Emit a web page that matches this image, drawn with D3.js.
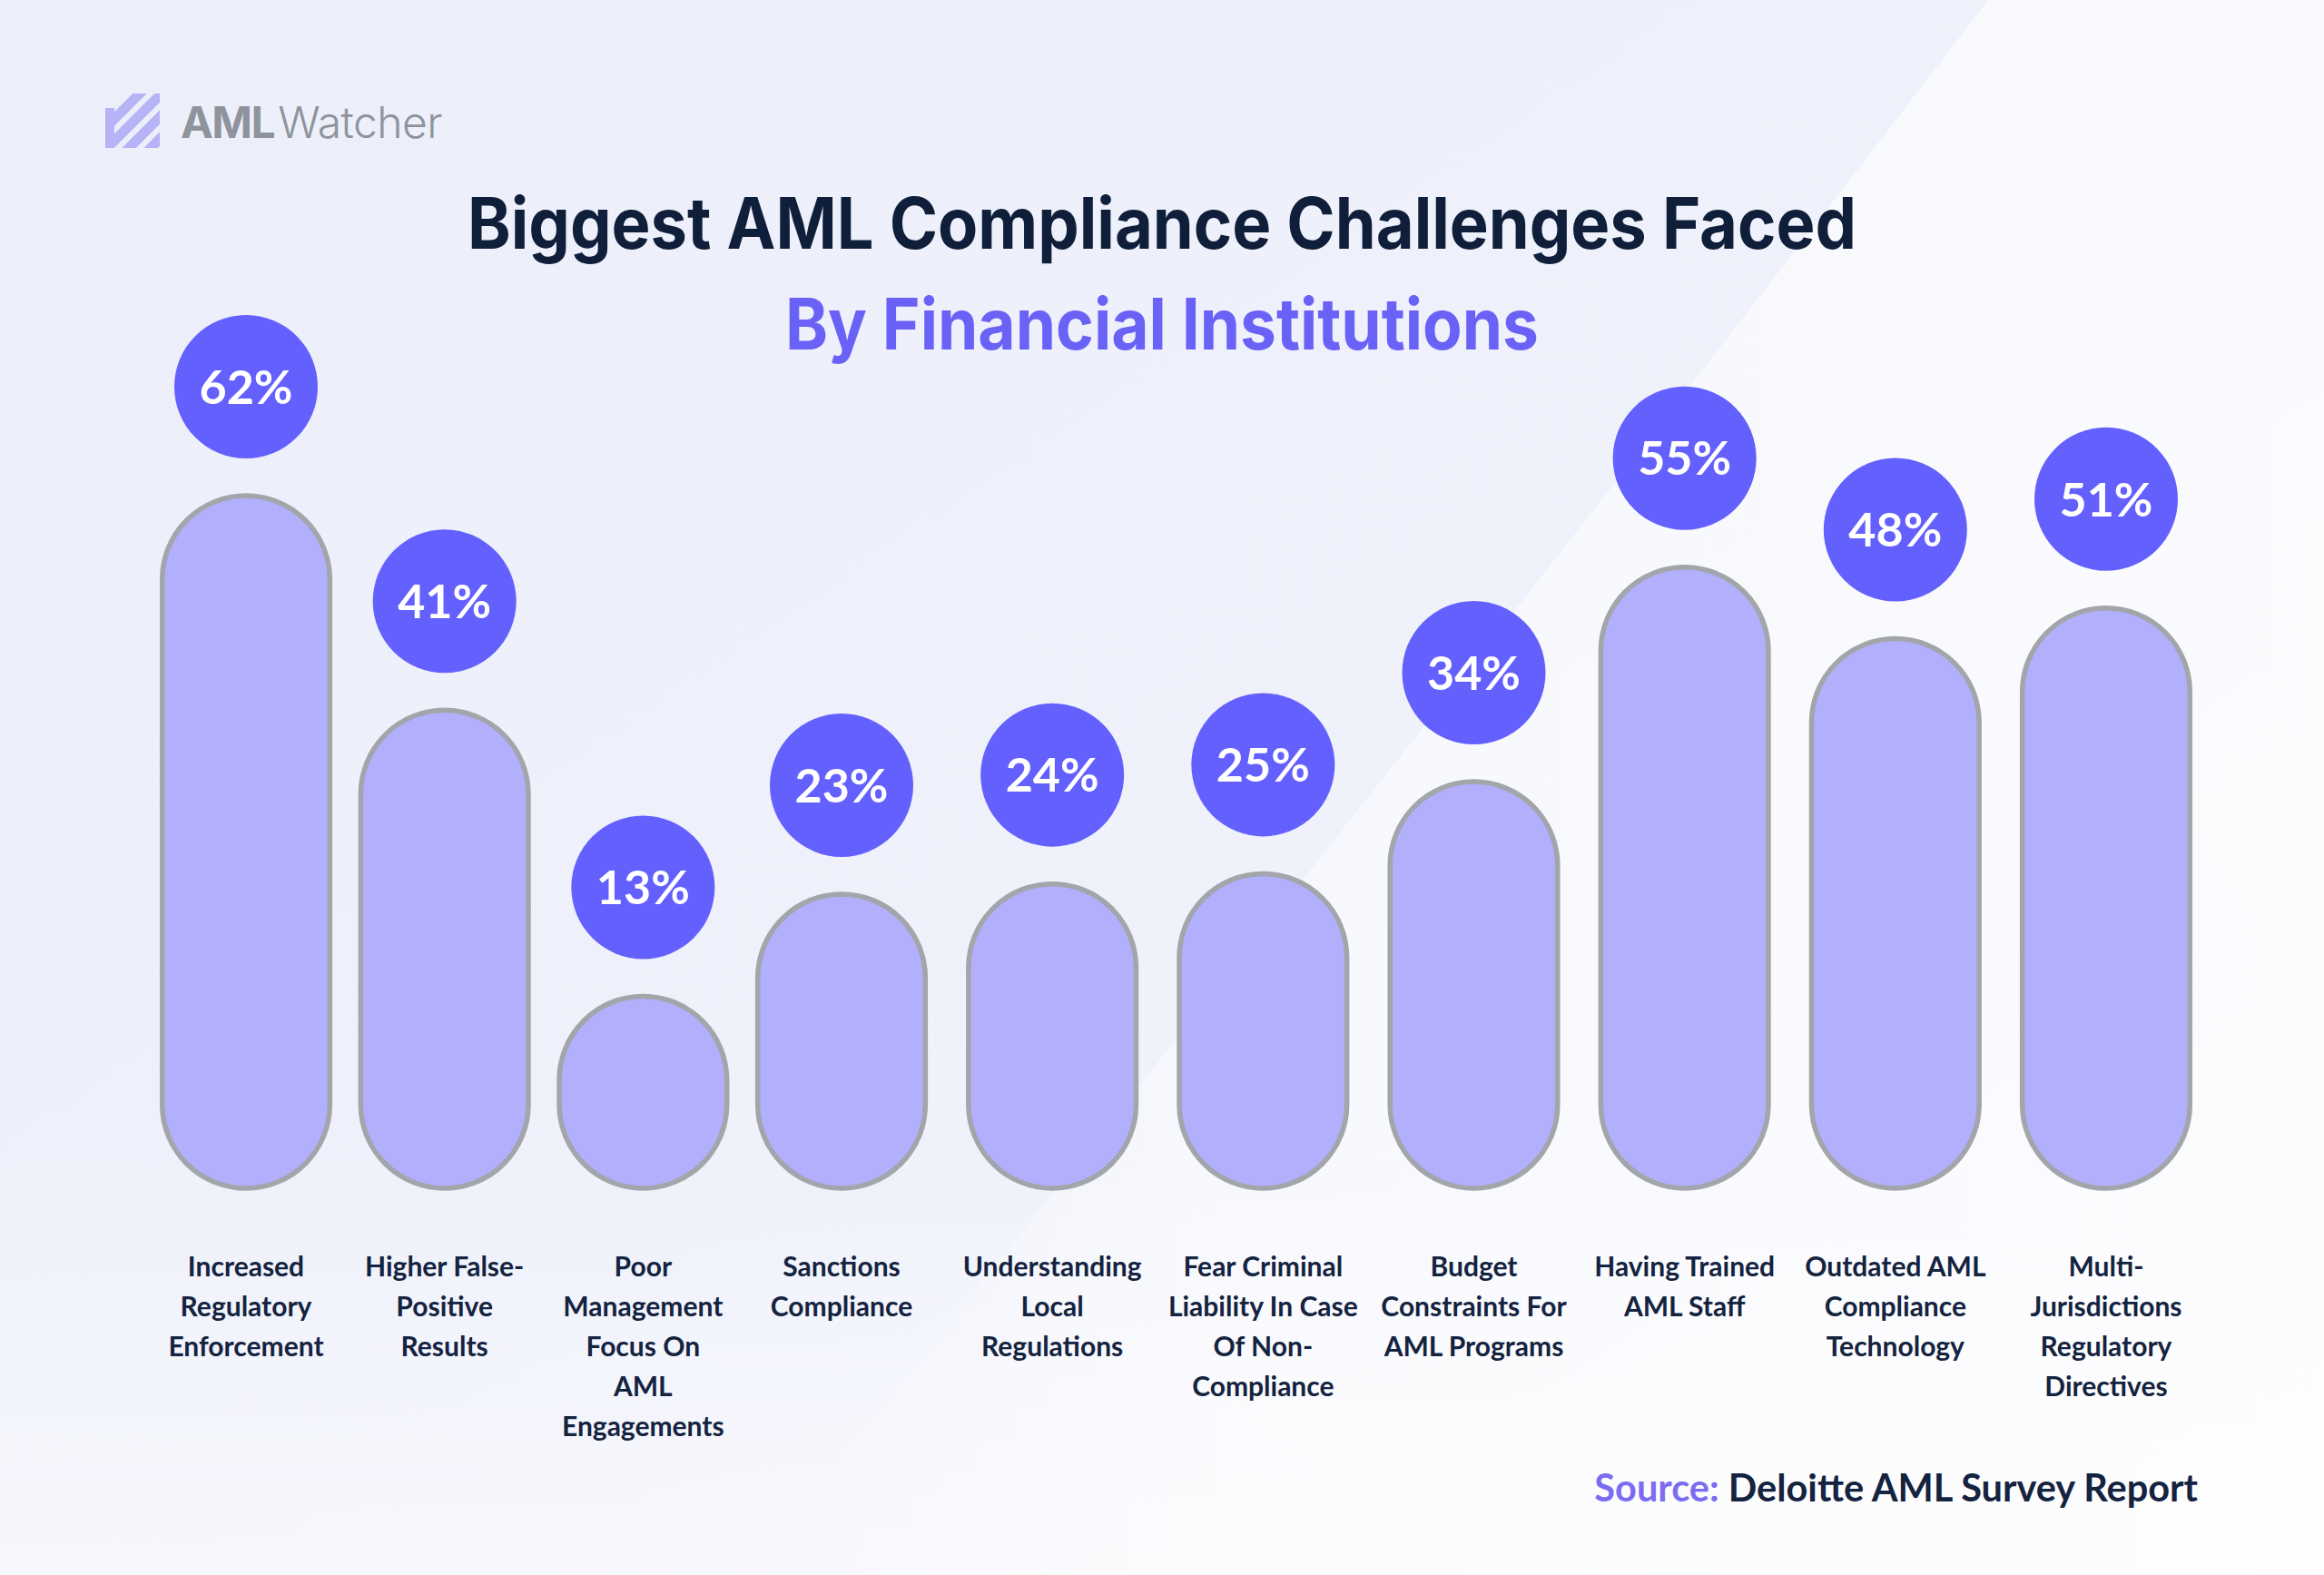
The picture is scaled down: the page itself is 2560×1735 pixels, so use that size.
<!DOCTYPE html>
<html>
<head>
<meta charset="utf-8">
<script src="https://cdn.jsdelivr.net/npm/d3@7"></script>
<style>
  html, body { margin: 0; padding: 0; background: #eef1fb; }
  svg { display: block; }
</style>
</head>
<body>
<svg id="chart" width="2560" height="1735"></svg>
<script>
// ---------- DATA ----------
const categories = [
  "Increased Regulatory Enforcement",
  "Higher False-Positive Results",
  "Poor Management Focus On AML Engagements",
  "Sanctions Compliance",
  "Understanding Local Regulations",
  "Fear Criminal Liability In Case Of Non-Compliance",
  "Budget Constraints For AML Programs",
  "Having Trained AML Staff",
  "Outdated AML Compliance Technology",
  "Multi-Jurisdictions Regulatory Directives"
];
const values = [62, 41, 13, 23, 24, 25, 34, 55, 48, 51];
const tickLabels = [
  ["Increased", "Regulatory", "Enforcement"],
  ["Higher False-", "Positive", "Results"],
  ["Poor", "Management", "Focus On", "AML", "Engagements"],
  ["Sanctions", "Compliance"],
  ["Understanding", "Local", "Regulations"],
  ["Fear Criminal", "Liability In Case", "Of Non-", "Compliance"],
  ["Budget", "Constraints For", "AML Programs"],
  ["Having Trained", "AML Staff"],
  ["Outdated AML", "Compliance", "Technology"],
  ["Multi-", "Jurisdictions", "Regulatory", "Directives"]
];
const titleText = "Biggest AML Compliance Challenges Faced";
const subtitleText = "By Financial Institutions";
const sourceLabel = "Source:";
const sourceText = "Deloitte AML Survey Report";

// ---------- SETUP ----------
const W = 2560, H = 1735;
const svg = d3.select("#chart");
const defs = svg.append("defs");

// background
const bg = defs.append("linearGradient").attr("id", "bgGrad")
  .attr("x1", 0).attr("y1", 0).attr("x2", 1).attr("y2", 1);
bg.append("stop").attr("offset", "0%").attr("stop-color", "#eceffa");
bg.append("stop").attr("offset", "55%").attr("stop-color", "#eff1fb");
bg.append("stop").attr("offset", "100%").attr("stop-color", "#f6f7fd");
svg.append("rect").attr("width", W).attr("height", H).attr("fill", "url(#bgGrad)");

const sheen = defs.append("linearGradient").attr("id", "sheen")
  .attr("x1", 0).attr("y1", 0).attr("x2", 1).attr("y2", 0);
sheen.append("stop").attr("offset", "0%").attr("stop-color", "#ffffff").attr("stop-opacity", 0.0);
sheen.append("stop").attr("offset", "30%").attr("stop-color", "#ffffff").attr("stop-opacity", 0.5);
sheen.append("stop").attr("offset", "100%").attr("stop-color", "#ffffff").attr("stop-opacity", 0.7);
svg.append("path")
  .attr("d", `M2190,0 L${W},0 L${W},${H} L820,${H} Q1500,900 2190,0 Z`)
  .attr("fill", "url(#sheen)");
const lowGlow = defs.append("linearGradient").attr("id", "lowGlow")
  .attr("x1", 0).attr("y1", 0).attr("x2", 0).attr("y2", 1);
lowGlow.append("stop").attr("offset", "0%").attr("stop-color", "#ffffff").attr("stop-opacity", 0);
lowGlow.append("stop").attr("offset", "100%").attr("stop-color", "#ffffff").attr("stop-opacity", 0.5);
svg.append("rect").attr("x", 0).attr("y", 1250).attr("width", W).attr("height", H - 1250)
  .attr("fill", "url(#lowGlow)");

// ---------- LOGO ----------
const logo = svg.append("g").attr("transform", "translate(116,103)");
defs.append("clipPath").attr("id", "logoClip")
  .append("polygon").attr("points", "0,16 16,0 60,0 60,60 0,60");
const lg = logo.append("g").attr("clip-path", "url(#logoClip)");
[38, 62, 86, 110].forEach(k => {
  lg.append("line")
    .attr("x1", k + 60).attr("y1", -60).attr("x2", k - 80).attr("y2", 80)
    .attr("stroke", "#b7b3f7").attr("stroke-width", 11);
});
lg.append("rect").attr("x", 0).attr("y", 16).attr("width", 10).attr("height", 44).attr("fill", "#b7b3f7");
const logoText = svg.append("text")
  .attr("x", 199).attr("y", 152)
  .attr("font-family", "Inter, 'Noto Sans', sans-serif")
  .attr("font-size", 48).attr("fill", "#8e939c");
logoText.append("tspan").attr("font-weight", 700).attr("letter-spacing", -1.5).text("AML");
logoText.append("tspan").attr("font-weight", 300).attr("dx", 4).attr("letter-spacing", -0.5).text("Watcher");

// ---------- TITLES ----------
svg.append("text")
  .attr("x", W / 2).attr("y", 274)
  .attr("text-anchor", "middle")
  .attr("font-family", "Inter, 'Noto Sans', sans-serif")
  .attr("font-weight", 700).attr("font-size", 78)
  .attr("fill", "#0f1f3a")
  .attr("textLength", 1530).attr("lengthAdjust", "spacingAndGlyphs")
  .text(titleText);
svg.append("text")
  .attr("x", W / 2).attr("y", 385)
  .attr("text-anchor", "middle")
  .attr("font-family", "Inter, 'Noto Sans', sans-serif")
  .attr("font-weight", 700).attr("font-size", 78)
  .attr("fill", "#6a62f6")
  .attr("textLength", 830).attr("lengthAdjust", "spacingAndGlyphs")
  .text(subtitleText);

// ---------- SCALES ----------
const baseline = 1309;
// band scale supplies the bar width
const x = d3.scaleBand()
  .domain(categories)
  .range([162, 2398])
  .paddingInner(0.19)
  .paddingOuter(0);
const bw = x.bandwidth();
// the infographic spaces its columns a little unevenly: polylinear index -> centre
const cx = d3.scaleLinear()
  .domain([0, 3, categories.length - 1])
  .range([271, 927, 2320]);
const y = d3.scaleLinear()
  .domain([-5.8, 62])
  .range([baseline, 546]);

const bubbleOffset = 120;
const bubbleR = 79;

// ---------- BARS ----------
const rows = categories.map((c, i) => ({ c, i, v: values[i], lines: tickLabels[i] }));
const bars = svg.append("g").selectAll("g.bar")
  .data(rows)
  .join("g").attr("class", "bar");

bars.append("rect")
  .attr("x", d => cx(d.i) - bw / 2)
  .attr("y", d => y(d.v))
  .attr("width", bw)
  .attr("height", d => baseline - y(d.v))
  .attr("rx", d => Math.min(bw / 2, (baseline - y(d.v)) / 2))
  .attr("ry", d => Math.min(bw / 2, (baseline - y(d.v)) / 2))
  .attr("fill", "#b2affc")
  .attr("stroke", "#a2a5a9")
  .attr("stroke-width", 5.5);

bars.append("circle")
  .attr("cx", d => cx(d.i))
  .attr("cy", d => y(d.v) - bubbleOffset)
  .attr("r", bubbleR)
  .attr("fill", "#6360fe");

bars.append("text")
  .attr("x", d => cx(d.i))
  .attr("y", d => y(d.v) - bubbleOffset)
  .attr("dy", "0.36em")
  .attr("text-anchor", "middle")
  .attr("font-family", "Lato, 'Noto Sans', sans-serif")
  .attr("font-weight", 700).attr("font-size", 52)
  .attr("fill", "#ffffff")
  .text(d => d.v + "%");

// ---------- CATEGORY LABELS ----------
const labels = bars.append("text")
  .attr("text-anchor", "middle")
  .attr("font-family", "Lato, 'Noto Sans', sans-serif")
  .attr("font-weight", 700).attr("font-size", 30)
  .attr("fill", "#14233f");
labels.selectAll("tspan")
  .data(d => d.lines.map((l, j) => ({ l, j, px: cx(d.i) })))
  .join("tspan")
  .attr("x", t => t.px)
  .attr("y", t => 1406 + t.j * 44)
  .text(t => t.l);

// ---------- SOURCE ----------
const src = svg.append("text")
  .attr("x", 2421).attr("y", 1654)
  .attr("text-anchor", "end")
  .attr("font-family", "Lato, 'Noto Sans', sans-serif")
  .attr("font-weight", 700).attr("font-size", 41.5);
src.append("tspan").attr("fill", "#7b6cf2").text(sourceLabel + " ");
src.append("tspan").attr("fill", "#14233f").text(sourceText);
</script>
</body>
</html>
